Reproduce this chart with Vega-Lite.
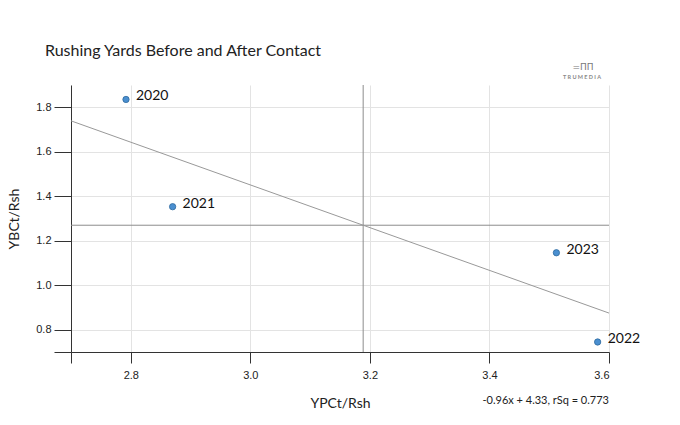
{
  "$schema": "https://vega.github.io/schema/vega-lite/v6.json",
  "width": 538,
  "height": 267,
  "autosize": "none",
  "padding": {"left": 71, "top": 85, "right": 71, "bottom": 73},
  "background": "#ffffff",
  "title": {
    "text": "Rushing Yards Before and After Contact",
    "anchor": "start",
    "frame": "group",
    "dx": -26,
    "offset": 4,
    "font": "Lato",
    "fontSize": 16,
    "fontWeight": "normal",
    "color": "#222222"
  },
  "data": {
    "values": [
      {"season": "2020", "ypc": 2.792, "ybc": 1.835},
      {"season": "2021", "ypc": 2.870, "ybc": 1.353},
      {"season": "2022", "ypc": 3.581, "ybc": 0.745},
      {"season": "2023", "ypc": 3.512, "ybc": 1.146}
    ]
  },
  "layer": [
    {
      "mark": {"type": "rule", "color": "#8c8c8c", "strokeWidth": 1},
      "encoding": {
        "x": {"aggregate": "mean", "field": "ypc", "type": "quantitative"}
      }
    },
    {
      "mark": {"type": "rule", "color": "#8c8c8c", "strokeWidth": 1},
      "encoding": {
        "y": {"aggregate": "mean", "field": "ybc", "type": "quantitative"}
      }
    },
    {
      "transform": [
        {"regression": "ybc", "on": "ypc", "extent": [2.7, 3.6]}
      ],
      "mark": {"type": "line", "color": "#999999", "strokeWidth": 1},
      "encoding": {
        "x": {"field": "ypc", "type": "quantitative"},
        "y": {"field": "ybc", "type": "quantitative"}
      }
    },
    {
      "mark": {
        "type": "point",
        "filled": true,
        "size": 40,
        "color": "#4a8fd0",
        "stroke": "#2f6a9e",
        "strokeWidth": 0.8,
        "opacity": 1
      },
      "encoding": {
        "x": {
          "field": "ypc",
          "type": "quantitative",
          "title": "YPCt/Rsh",
          "scale": {"domain": [2.7, 3.6], "nice": false, "zero": false},
          "axis": {
            "values": [2.7, 2.8, 3.0, 3.2, 3.4, 3.6],
            "labelExpr": "datum.value < 2.75 ? '' : format(datum.value, '.1f')",
            "tickSize": 11,
            "labelPadding": 6,
            "titlePadding": 16
          }
        },
        "y": {
          "field": "ybc",
          "type": "quantitative",
          "title": "YBCt/Rsh",
          "scale": {"domain": [0.7, 1.9], "nice": false, "zero": false},
          "axis": {
            "values": [0.7, 0.8, 1.0, 1.2, 1.4, 1.6, 1.8],
            "labelExpr": "datum.value < 0.75 ? '' : format(datum.value, '.1f')",
            "tickSize": 17,
            "labelPadding": 3,
            "titlePadding": 14
          }
        }
      }
    },
    {
      "mark": {
        "type": "text",
        "align": "left",
        "baseline": "middle",
        "dx": 10,
        "dy": -3,
        "font": "Lato",
        "fontSize": 14,
        "color": "#111111"
      },
      "encoding": {
        "x": {"field": "ypc", "type": "quantitative"},
        "y": {"field": "ybc", "type": "quantitative"},
        "text": {"field": "season", "type": "nominal"}
      }
    },
    {
      "data": {"values": [{"note": "-0.96x + 4.33, rSq = 0.773"}]},
      "mark": {
        "type": "text",
        "align": "right",
        "baseline": "middle",
        "dy": 49,
        "font": "Lato",
        "fontSize": 11,
        "color": "#222222"
      },
      "encoding": {
        "x": {"datum": 3.6, "type": "quantitative"},
        "y": {"datum": 0.7, "type": "quantitative"},
        "text": {"field": "note", "type": "nominal"}
      }
    },
    {
      "data": {"values": [{"brand": "T R U M E D I A", "icon": "=ΠΠ"}]},
      "layer": [
        {
          "mark": {
            "type": "text",
            "align": "center",
            "baseline": "middle",
            "dx": -27,
            "dy": -8,
            "font": "Lato",
            "fontSize": 5.5,
            "fontWeight": "bold",
            "color": "#888888"
          },
          "encoding": {
            "x": {"datum": 3.6, "type": "quantitative"},
            "y": {"datum": 1.9, "type": "quantitative"},
            "text": {"field": "brand", "type": "nominal"}
          }
        },
        {
          "mark": {
            "type": "text",
            "align": "center",
            "baseline": "middle",
            "dx": -26,
            "dy": -18,
            "font": "DejaVu Sans",
            "fontSize": 9,
            "color": "#777777"
          },
          "encoding": {
            "x": {"datum": 3.6, "type": "quantitative"},
            "y": {"datum": 1.9, "type": "quantitative"},
            "text": {"field": "icon", "type": "nominal"}
          }
        }
      ]
    }
  ],
  "config": {
    "view": {"stroke": null},
    "axis": {
      "domainColor": "#333333",
      "tickColor": "#333333",
      "gridColor": "#e3e3e3",
      "gridWidth": 1,
      "labelFont": "Liberation Sans",
      "labelFontSize": 11,
      "labelColor": "#222222",
      "titleFont": "Lato",
      "titleFontSize": 14,
      "titleFontWeight": "normal",
      "titleColor": "#222222"
    }
  }
}
